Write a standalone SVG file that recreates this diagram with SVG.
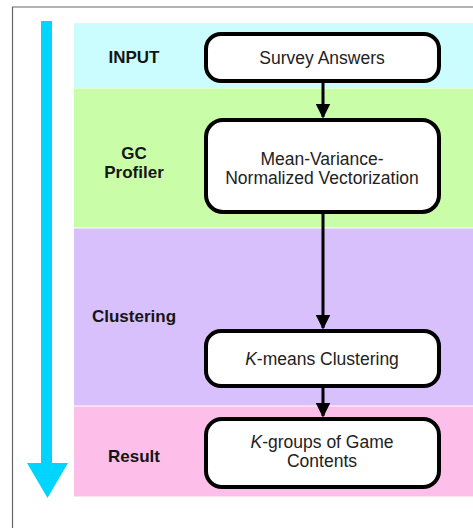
<svg xmlns="http://www.w3.org/2000/svg" width="473" height="528" viewBox="0 0 473 528">
<defs>
<style>
.lbl{font-family:"Liberation Sans",Arial,sans-serif;font-weight:bold;font-size:17px;fill:#151515;text-anchor:middle}
.txt{font-family:"Liberation Sans",Arial,sans-serif;font-size:17.5px;fill:#222;text-anchor:middle}
.box{fill:#fff;stroke:#000;stroke-width:4}
.conn{stroke:#000;stroke-width:3;fill:none}
</style>
<marker id="ah" viewBox="0 0 10 10" refX="9" refY="5" markerWidth="5" markerHeight="5" markerUnits="strokeWidth" orient="auto">
<path d="M0,0 L10,5 L0,10 Z" fill="#000"/>
</marker>
</defs>
<rect x="0" y="0" width="473" height="528" fill="#fff"/>
<path d="M12.5,528 V7 H473" fill="none" stroke="#666" stroke-width="1.2"/>
<g id="bands">
<rect x="74" y="23" width="399" height="65" fill="#ccfdfe"/>
<rect x="74" y="88.5" width="399" height="139" fill="#c9fda8"/>
<rect x="74" y="228.5" width="399" height="177" fill="#d8c0fd"/>
<rect x="74" y="406.5" width="399" height="90" fill="#fdbfe9"/>
</g>
<g id="timeline">
<rect x="41" y="21" width="11" height="445" fill="#00d5ff"/>
<path d="M27,463 H68 L47.5,498 Z" fill="#00d5ff"/>
</g>
<g id="labels">
<text class="lbl" x="134" y="63">INPUT</text>
<text class="lbl" x="134" y="159">GC</text>
<text class="lbl" x="134" y="178">Profiler</text>
<text class="lbl" x="134" y="322">Clustering</text>
<text class="lbl" x="134" y="462">Result</text>
</g>
<g id="connectors">
<line class="conn" x1="323" y1="83" x2="323" y2="117" marker-end="url(#ah)"/>
<line class="conn" x1="323" y1="214" x2="323" y2="328" marker-end="url(#ah)"/>
<line class="conn" x1="323" y1="388" x2="323" y2="416" marker-end="url(#ah)"/>
</g>
<g id="survey">
<rect class="box" x="206" y="34" width="233" height="47" rx="15"/>
<text class="txt" x="322" y="64">Survey Answers</text>
</g>
<g id="vectorization">
<rect class="box" x="206" y="120" width="233" height="92" rx="17"/>
<text class="txt" x="322" y="165">Mean-Variance-</text>
<text class="txt" x="322" y="184">Normalized Vectorization</text>
</g>
<g id="kmeans">
<rect class="box" x="206" y="331" width="233" height="55" rx="15"/>
<text class="txt" x="322" y="365"><tspan font-style="italic">K</tspan>-means Clustering</text>
</g>
<g id="kgroups">
<rect class="box" x="206" y="419" width="233" height="68" rx="16"/>
<text class="txt" x="322" y="448"><tspan font-style="italic">K</tspan>-groups of Game</text>
<text class="txt" x="322" y="467">Contents</text>
</g>
</svg>
